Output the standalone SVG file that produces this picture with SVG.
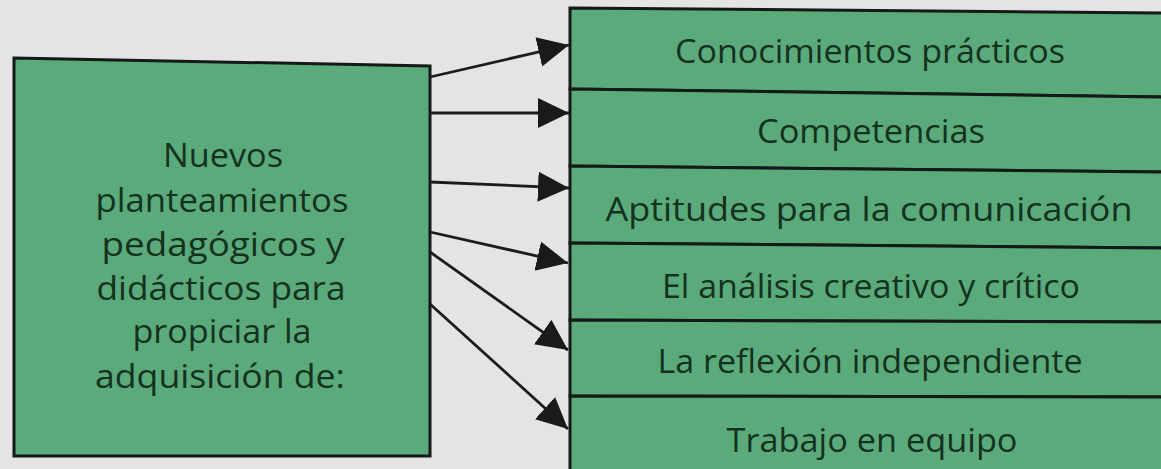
<svg xmlns="http://www.w3.org/2000/svg" width="1161" height="469" viewBox="0 0 1161 469">
<style>
.box{fill:#5baa7c;stroke:#141a16;stroke-width:3}
.t{font-family:"Open Sans","Noto Sans",sans-serif;font-size:33px;font-weight:500;fill:#14321d;text-anchor:middle}
.c{stroke:#1c1c1c;stroke-width:2.8;fill:none}
</style>
<defs>
<marker id="ah" markerUnits="userSpaceOnUse" markerWidth="34" markerHeight="32" refX="31" refY="15" orient="auto">
<path d="M0,0 L31,15 L0,30 z" fill="#1a1a1a"/>
</marker>
</defs>
<rect x="0" y="0" width="1161" height="469" fill="#e5e3e5"/>
<g id="n0">
<polygon class="box" points="14,58 430,66 430,456 14,456"/>
<text class="t" x="223" y="167" textLength="120" lengthAdjust="spacingAndGlyphs">Nuevos</text>
<text class="t" x="222" y="212" textLength="253" lengthAdjust="spacingAndGlyphs">planteamientos</text>
<text class="t" x="223" y="256" textLength="243" lengthAdjust="spacingAndGlyphs">pedagógicos y</text>
<text class="t" x="221" y="300" textLength="249" lengthAdjust="spacingAndGlyphs">didácticos para</text>
<text class="t" x="222" y="343" textLength="179" lengthAdjust="spacingAndGlyphs">propiciar la</text>
<text class="t" x="220" y="388" textLength="250" lengthAdjust="spacingAndGlyphs">adquisición de:</text>
</g>
<g id="n1">
<polygon class="box" points="570,8 1170,13 1170,97 570,89"/>
<text class="t" x="870" y="63" textLength="390" lengthAdjust="spacingAndGlyphs">Conocimientos prácticos</text>
</g>
<g id="n2">
<polygon class="box" points="570,89 1170,97 1170,172 570,166"/>
<text class="t" x="871" y="143" textLength="228" lengthAdjust="spacingAndGlyphs">Competencias</text>
</g>
<g id="n3">
<polygon class="box" points="570,166 1170,172 1170,248 570,243"/>
<text class="t" x="869" y="221" textLength="527" lengthAdjust="spacingAndGlyphs">Aptitudes para la comunicación</text>
</g>
<g id="n4">
<polygon class="box" points="570,243 1170,248 1170,322 570,320"/>
<text class="t" x="871" y="298" textLength="418" lengthAdjust="spacingAndGlyphs">El análisis creativo y crítico</text>
</g>
<g id="n5">
<polygon class="box" points="570,320 1170,322 1170,397 570,396"/>
<text class="t" x="870" y="373" textLength="425" lengthAdjust="spacingAndGlyphs">La reflexión independiente</text>
</g>
<g id="n6">
<polygon class="box" points="570,396 1170,397 1170,478 570,478"/>
<text class="t" x="872" y="452" textLength="291" lengthAdjust="spacingAndGlyphs">Trabajo en equipo</text>
</g>
<g id="connectors">
<line class="c" x1="430" y1="77" x2="569" y2="45" marker-end="url(#ah)"/>
<line class="c" x1="430" y1="113" x2="569" y2="113" marker-end="url(#ah)"/>
<line class="c" x1="430" y1="182" x2="569" y2="188" marker-end="url(#ah)"/>
<line class="c" x1="430" y1="232" x2="568" y2="263" marker-end="url(#ah)"/>
<line class="c" x1="430" y1="252" x2="568" y2="350" marker-end="url(#ah)"/>
<line class="c" x1="430" y1="304" x2="568" y2="429" marker-end="url(#ah)"/>
</g>
</svg>
